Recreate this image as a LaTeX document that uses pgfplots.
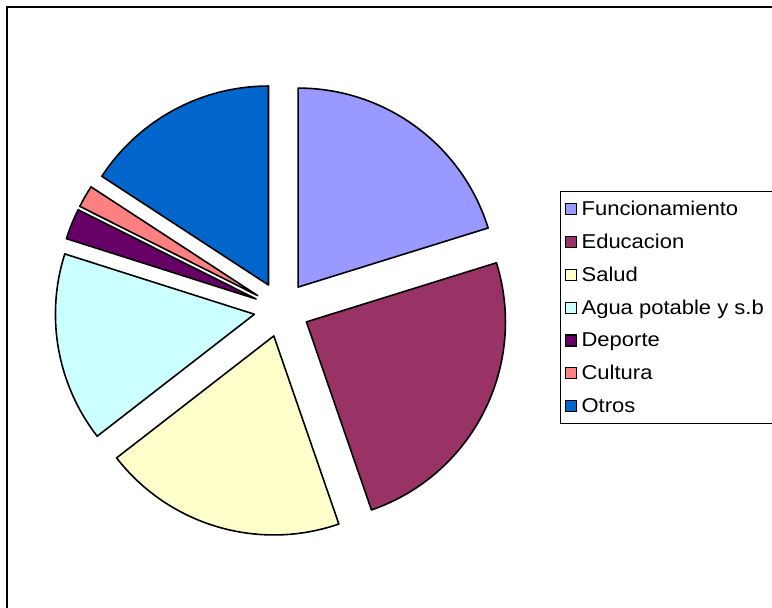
\documentclass[border=0pt]{standalone}
\usepackage{fontspec}
\setmainfont{Liberation Sans}[FakeStretch=1.1]
\usepackage{pgfplots}
\usepackage{pgfplotstable}
\pgfplotsset{compat=1.18}

\definecolor{cFun}{HTML}{9999FF}
\definecolor{cEdu}{HTML}{993366}
\definecolor{cSal}{HTML}{FFFFCC}
\definecolor{cAgu}{HTML}{CCFFFF}
\definecolor{cDep}{HTML}{660066}
\definecolor{cCul}{HTML}{FF8080}
\definecolor{cOtr}{HTML}{0066CC}

% share of each item, percent
\pgfplotstableread[col sep=comma]{
label,value,col
Funcionamiento,20.2,cFun
Educacion,24.5,cEdu
Salud,19.8,cSal
Agua potable y s.b,15.4,cAgu
Deporte,2.5,cDep
Cultura,1.8,cCul
Otros,15.8,cOtr
}\piedata

\begin{document}
\begin{tikzpicture}
% running angles (clockwise from 12 o'clock)
\def\acc{0}
\pgfplotsforeachungrouped \i in {0,...,6}{%
  \pgfplotstablegetelem{\i}{value}\of\piedata
  \let\v\pgfplotsretval
  \pgfmathsetmacro\st{90-\acc*3.6}
  \pgfmathsetmacro\en{90-(\acc+\v)*3.6}
  \pgfmathsetmacro\md{(\st+\en)/2}
  \expandafter\xdef\csname s\i\endcsname{\st}
  \expandafter\xdef\csname e\i\endcsname{\en}
  \expandafter\xdef\csname m\i\endcsname{\md}
  \pgfplotstablegetelem{\i}{col}\of\piedata
  \expandafter\xdef\csname c\i\endcsname{\pgfplotsretval}
  \pgfmathsetmacro\acc{\acc+\v}
  \xdef\acc{\acc}
}
\begin{axis}[
  at={(0,0)}, anchor=south west,
  width=772pt, height=608pt, scale only axis,
  xmin=0, xmax=772, ymin=0, ymax=608,
  hide axis, clip=false,
  legend style={at={(axis cs:560,417)}, anchor=north west,
    draw=black, line width=1pt, inner xsep=4pt, inner ysep=8.5pt,
    font=\fontsize{20}{22}\selectfont, row sep=15pt,
    nodes={inner sep=1pt}},
  legend cell align=left,
  legend image code/.code={\filldraw[#1, line width=1.2pt] (0pt,-5.5pt) rectangle (11pt,5.5pt); \path (15pt,0pt);},
]
\pgfplotsinvokeforeach{0,...,6}{
  \filldraw[fill=\csname c#1\endcsname, draw=black, line width=1.6pt, line join=round]
    ([shift={(\csname m#1\endcsname:27.7pt)}]axis cs:281.7,298.6)
    -- ++(\csname s#1\endcsname:199pt)
    arc[start angle=\csname s#1\endcsname, end angle=\csname e#1\endcsname, radius=199pt]
    -- cycle;
}
\addlegendimage{fill=cFun, draw=black}\addlegendentry{Funcionamiento}
\addlegendimage{fill=cEdu, draw=black}\addlegendentry{Educacion}
\addlegendimage{fill=cSal, draw=black}\addlegendentry{Salud}
\addlegendimage{fill=cAgu, draw=black}\addlegendentry{Agua potable y s.b}
\addlegendimage{fill=cDep, draw=black}\addlegendentry{Deporte}
\addlegendimage{fill=cCul, draw=black}\addlegendentry{Cultura}
\addlegendimage{fill=cOtr, draw=black}\addlegendentry{\makebox[200pt][l]{Otros}}
\end{axis}
\draw[line width=1.6pt] (7pt,-20pt) -- (7pt,601pt) -- (800pt,601pt);
\pgfresetboundingbox
\path (0,0) rectangle (772pt,608pt);
\end{tikzpicture}
\end{document}
